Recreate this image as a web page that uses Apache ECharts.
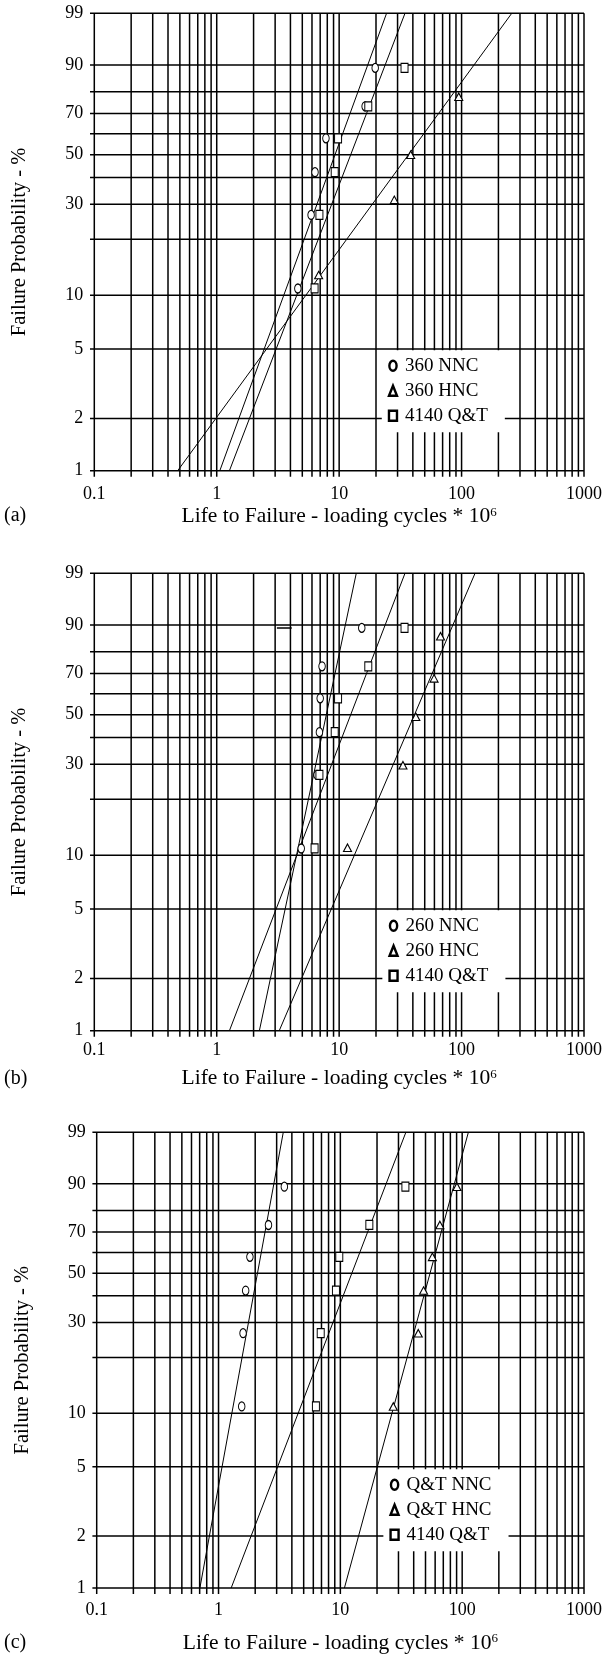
<!DOCTYPE html>
<html><head><meta charset="utf-8">
<script src="https://cdn.jsdelivr.net/npm/echarts@6/dist/echarts.min.js"></script>
<style>html,body{margin:0;padding:0;background:#fff}#c{width:605px;height:1655px}</style>
</head><body><div id="c"></div>
<script>
// ---------------- data ----------------
const xTickLabels = ['0.1', '1', '10', '100', '1000'];
const yTickLabels = [1, 2, 5, 10, 30, 50, 70, 90, 99];
const yGridPercents = [1, 2, 5, 10, 20, 30, 40, 50, 60, 70, 80, 90, 99];
const xGridValues = [0.1, 0.2, 0.3, 0.4, 0.5, 0.6, 0.7, 0.8, 0.9,
  1, 2, 3, 4, 5, 6, 7, 8, 9,
  10, 20, 30, 40, 50, 60, 70, 80, 90,
  100, 200, 300, 400, 500, 600, 700, 800, 900, 1000];
const panelLabels = ['(a)', '(b)', '(c)'];
const xAxisTitle = 'Life to Failure - loading cycles * 10';
const xAxisTitleSup = '6';
const yAxisTitle = 'Failure Probability - %';
const seriesNames = [
  ['360 NNC', '360 HNC', '4140 Q&T'],
  ['260 NNC', '260 HNC', '4140 Q&T'],
  ['Q&T NNC', 'Q&T HNC', '4140 Q&T']
];

const medianRanks = [10.9, 26.6, 42.2, 57.8, 73.4, 89.1];

// 4140 Q&T reference (same in all panels)
const q4140Life = [6.3, 6.9, 9.2, 9.8, 17.3, 34.2];
const q4140Prob = medianRanks;
const q4140Fit = [1.27, 34.5];        // life at 1 % and at 99 %

// panel (a)
const aNncLife = [4.6, 5.9, 6.35, 7.8, 16.3, 19.7];
const aNncProb = medianRanks;
const aHncLife = [6.8, 28.2, 38.4, 94.8];
const aHncProb = [12.9, 31.5, 50.0, 77.8];
const aNncFit = [1.06, 24.4];
const aHncFit = [0.48, 257];

// panel (b)
const bNncLife = [4.9, 6.6, 6.9, 7.0, 7.25, 15.3];
const bNncProb = medianRanks;
const bHncLife = [11.7, 33.2, 42.3, 59.6, 67.3];
const bHncProb = [11.0, 29.7, 49.0, 67.6, 86.2];
const bNncFit = [2.23, 13.8];
const bHncFit = [3.24, 128.8];
const bStrayLife = [3.1, 4.1];
const bStrayProb = [89.1, 89.1];

// panel (c)
const cNncLife = [1.55, 1.59, 1.67, 1.81, 2.57, 3.47];
const cNncProb = medianRanks;
const cHncLife = [27.2, 43.6, 48.2, 56.9, 65.6, 90.6];
const cHncProb = medianRanks;
const cNncFit = [0.703, 3.40];
const cHncFit = [10.8, 112.4];

// ---------------- layout / style ----------------
const FONT = '"Liberation Serif", "Times New Roman", serif';
const X_MIN = 0.1, X_MAX = 1000;
const wb = p => Math.log(-Math.log(1 - p / 100));   // Weibull probability scale
const Y_MIN = wb(1), Y_MAX = wb(99);

const grids = [
  { left: 94.3, top: 13.3, width: 498, height: 457.4 },
  { left: 94.3, top: 573.3, width: 499, height: 457.4 },
  { left: 96.7, top: 1132.3, width: 496.6, height: 455.7 }
];
const labelMargins = [15, 11, 13];
const nameGaps = [35, 37, 44];
const panelLabelY = [517, 1080, 1644];

const panels = [
  { nnc: [aNncLife, aNncProb], hnc: [aHncLife, aHncProb], fits: [aNncFit, aHncFit, q4140Fit] },
  { nnc: [bNncLife, bNncProb], hnc: [bHncLife, bHncProb], fits: [bNncFit, bHncFit, q4140Fit] },
  { nnc: [cNncLife, cNncProb], hnc: [cHncLife, cHncProb], fits: [cNncFit, cHncFit, q4140Fit] }
];

function ellipsePath(rx, ry) {
  const k = 0.5523;
  return 'path://M0,' + (-ry) +
    'C' + (k * rx) + ',' + (-ry) + ' ' + rx + ',' + (-k * ry) + ' ' + rx + ',0' +
    'C' + rx + ',' + (k * ry) + ' ' + (k * rx) + ',' + ry + ' 0,' + ry +
    'C' + (-k * rx) + ',' + ry + ' ' + (-rx) + ',' + (k * ry) + ' ' + (-rx) + ',0' +
    'C' + (-rx) + ',' + (-k * ry) + ' ' + (-k * rx) + ',' + (-ry) + ' 0,' + (-ry) + 'Z';
}
const ellipse = ellipsePath(1, 1);
const legendEllipse = ellipsePath(0.36, 0.5);
const symbols = [ellipse, 'triangle', 'rect'];
const symbolSizes = [[6.5, 9], [8, 7.5], [7, 9]];
const legendIcons = [legendEllipse, 'triangle', 'rect'];

const GRID_LW = 1.5;

function vGridSeries(i) {
  return {
    type: 'custom', xAxisIndex: i, yAxisIndex: i, clip: false, silent: true, z: 1,
    data: xGridValues.map(x => [x, Y_MIN]),
    renderItem: (params, api) => {
      const x = api.value(0);
      const a = api.coord([x, Y_MAX]);
      const b = api.coord([x, Y_MIN]);
      return { type: 'line', shape: { x1: a[0], y1: a[1], x2: b[0], y2: b[1] + 6 },
        style: { stroke: '#000', lineWidth: GRID_LW } };
    }
  };
}
function hGridSeries(i) {
  return {
    type: 'custom', xAxisIndex: i, yAxisIndex: i, clip: false, silent: true, z: 1,
    data: yGridPercents.map(p => [1, wb(p)]),
    renderItem: (params, api) => {
      const w = api.value(1);
      const p = yGridPercents[params.dataIndex];
      const a = api.coord([X_MIN, w]);
      const b = api.coord([X_MAX, w]);
      const children = [{ type: 'line', shape: { x1: a[0] - 4.3, y1: a[1], x2: b[0], y2: b[1] },
        style: { stroke: '#000', lineWidth: GRID_LW } }];
      if (yTickLabels.indexOf(p) >= 0) {
        children.push({ type: 'text', x: a[0] - 11, y: a[1],
          style: { text: String(p), align: 'right', verticalAlign: 'middle',
            fontFamily: FONT, fontSize: 18, fill: '#000' } });
      }
      return { type: 'group', children };
    }
  };
}

const series = [];
panels.forEach((pn, i) => {
  series.push(vGridSeries(i), hGridSeries(i));
  pn.fits.forEach(f => series.push({
    type: 'line', xAxisIndex: i, yAxisIndex: i, silent: true, symbol: 'none', z: 3,
    lineStyle: { color: '#000', width: 1 },
    data: [[f[0], Y_MIN], [f[1], Y_MAX]]
  }));
  const groups = [pn.nnc, pn.hnc, [q4140Life, q4140Prob]];
  groups.forEach((g, k) => series.push({
    type: 'scatter', name: seriesNames[i][k], xAxisIndex: i, yAxisIndex: i, z: 4,
    symbol: symbols[k], symbolSize: symbolSizes[k],
    itemStyle: { color: '#fff', borderColor: '#000', borderWidth: 1.1, opacity: 1 },
    data: g[0].map((x, j) => [x, wb(g[1][j])])
  }));
});
series.push({
  type: 'line', xAxisIndex: 1, yAxisIndex: 1, silent: true, symbol: 'none', z: 3,
  lineStyle: { color: '#000', width: 1.5 },
  data: bStrayLife.map((x, j) => [x, wb(bStrayProb[j])])
});

const legends = grids.map((g, i) => ({
  orient: 'vertical',
  left: g.left + (Math.log10(20) + 1) / 4 * g.width + 1,
  top: g.top + 337,
  itemWidth: 8, itemHeight: 10, itemGap: 6,
  padding: [6, 17, 7, 6],
  backgroundColor: '#fff', borderWidth: 0,
  selectedMode: false, z: 10,
  textStyle: { fontFamily: FONT, fontSize: 19, color: '#000', padding: [0, 0, 0, 3] },
  data: seriesNames[i].map((n, k) => ({ name: n, icon: legendIcons[k],
    itemStyle: { color: '#fff', borderColor: '#000', borderWidth: 2.4 } }))
}));

const option = {
  animation: false,
  backgroundColor: '#fff',
  grid: grids.map(g => Object.assign({ containLabel: false }, g)),
  xAxis: grids.map((g, i) => ({
    type: 'log', gridIndex: i, logBase: 10, min: X_MIN, max: X_MAX, splitNumber: 4,
    axisLine: { show: false }, axisTick: { show: false }, splitLine: { show: false },
    axisLabel: { margin: labelMargins[i], fontFamily: FONT, fontSize: 18, color: '#000',
      showMinLabel: true, showMaxLabel: true,
      formatter: v => xTickLabels[Math.round(Math.log10(v)) + 1] },
    name: xAxisTitle + '{sup|' + xAxisTitleSup + '}',
    nameLocation: 'middle', nameGap: nameGaps[i],
    nameTextStyle: { fontFamily: FONT, fontSize: 21.5, color: '#000',
      rich: { sup: { fontFamily: FONT, fontSize: 13, color: '#000', verticalAlign: 'top', lineHeight: 22 } } }
  })),
  yAxis: grids.map((g, i) => ({
    type: 'value', gridIndex: i, min: Y_MIN, max: Y_MAX,
    axisLine: { show: false }, axisTick: { show: false }, axisLabel: { show: false },
    splitLine: { show: false },
    name: yAxisTitle, nameLocation: 'middle', nameRotate: 90, nameGap: 64,
    nameTextStyle: { fontFamily: FONT, fontSize: 20.5, color: '#000' }
  })),
  legend: legends,
  graphic: panelLabels.map((t, i) => ({
    type: 'text', left: 4, top: panelLabelY[i] - 11,
    style: { text: t, fontFamily: FONT, fontSize: 20, fill: '#000' }
  })),
  series
};

const chart = echarts.init(document.getElementById('c'), null, { renderer: 'canvas' });
chart.setOption(option);
</script>
</body></html>
